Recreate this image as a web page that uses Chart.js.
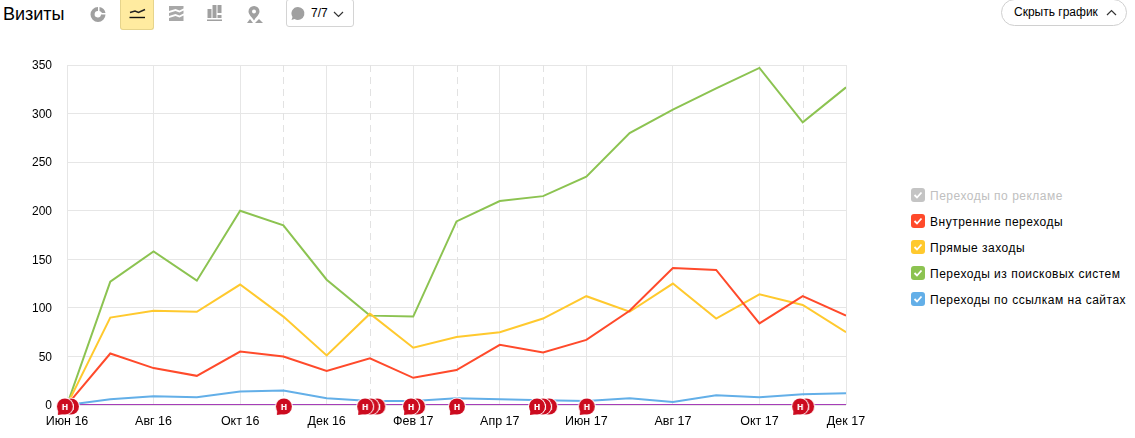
<!DOCTYPE html>
<html lang="ru">
<head>
<meta charset="utf-8">
<title>Визиты</title>
<script src="https://cdn.jsdelivr.net/npm/chart.js@4/dist/chart.umd.min.js"></script>
<style>
  html, body { margin: 0; padding: 0; background: #fff; }
  body { position: relative; width: 1135px; height: 438px; overflow: hidden; font-family: "Liberation Sans", Arial, sans-serif; font-size: 12px; color: #000; }
  #chart { position: absolute; left: 0; top: 0; }
  .title { position: absolute; left: 3px; top: 3px; font-size: 18px; line-height: 22px; }
  .icon { position: absolute; top: 0; width: 34px; height: 30px; box-sizing: border-box; }
  .icon svg { display: block; width: 34px; height: 30px; }
  .icon.active { background: #ffeba0; border: 1px solid #e6d48c; border-top: 0; border-radius: 0 0 3px 3px; }
  .notes { position: absolute; left: 286px; top: -1px; width: 68px; height: 28px; box-sizing: border-box; border: 1px solid #d4d4d4; border-radius: 3px; }
  .notes svg { position: absolute; left: 0; top: 0; }
  .notes span { position: absolute; left: 24px; top: 6px; line-height: 14px; }
  .hide { position: absolute; left: 1001px; top: -1px; width: 126px; height: 27px; box-sizing: border-box; border: 1px solid #d0d0d0; border-radius: 14px; line-height: 25px; padding-left: 12px; }
  .hide svg { position: absolute; left: 104px; top: 8px; }
  #legend { position: absolute; left: 911px; top: 188px; }
  .item { position: relative; height: 26px; line-height: 16px; padding-left: 19px; white-space: nowrap; letter-spacing: .5px; }
  .item i { position: absolute; left: 0; top: 0; width: 14px; height: 14px; border-radius: 3px; }
  .item svg { position: absolute; left: 0; top: 0; }
  .item.off { color: #c0c0c0; }
</style>
</head>
<body>
<div class="title">Визиты</div>
<div class="icon" style="left:81px"><svg viewBox="0 0 34 30"><path d="M17 7a7.500 7.500 0 1 0 7.500 7.500H20a3.200 3.200 0 1 1-3-3.500z" fill="#a0a0a0"/><path d="M18.500 7a7.500 7.500 0 0 1 6 6H21a3.500 3.500 0 0 0-2.500-2z" fill="#a0a0a0"/></svg></div>
<div class="icon active" style="left:120px"><svg viewBox="0 0 34 30" style="margin-left:-1px"><path d="M10 12.500l5-1.500 3.500 1.500 6.500-3" fill="none" stroke="#222" stroke-width="1.500"/><path d="M9.500 17.500h15.500" stroke="#111" stroke-width="1.400"/></svg></div>
<div class="icon" style="left:159px"><svg viewBox="0 0 34 30"><path d="M10 6h14.500v2.500l-4 2-4-1.500-6.500 2zM10 13l6.500-2 4 1.500 4-2v3l-4 2-4-1.500-6.500 2zM10 18l6.500-2 4 1.500 4-2V21H10z" fill="#a8a8a8"/></svg></div>
<div class="icon" style="left:198px"><svg viewBox="0 0 34 30"><path d="M9.500 9h4v9h-4zM14.500 5h4v13h-4zM19.500 5h4v8h-4zM19.500 15h4v3h-4zM9 19.500h15v1.500H9z" fill="#a0a0a0"/></svg></div>
<div class="icon" style="left:237px"><svg viewBox="0 0 34 30"><path d="M17 6a5.500 5.500 0 0 0-5.500 5.500c0 3 3 5 5.500 9 2.500-4 5.500-6 5.500-9A5.500 5.500 0 0 0 17 6zm0 3.500a2 2 0 1 1 0 4 2 2 0 0 1 0-4z" fill="#a0a0a0"/><path d="M10 23l3-4 3 4zM18 23l4-4 4 4z" fill="#a0a0a0"/></svg></div>
<div class="notes">
  <svg width="24" height="28"><path d="M11 7a6.500 6.500 0 1 1-3.500 12l-3 1 1-3A6.500 6.500 0 0 1 11 7z" fill="#a0a0a0"/></svg>
  <span>7/7</span>
  <svg width="66" height="26"><path d="M47 12l4.500 4.500 4.500-4.500" fill="none" stroke="#333" stroke-width="1.200"/></svg>
</div>
<div class="hide">Скрыть график<svg width="12" height="9"><path d="M1 7l4.500-4.500L10 7" fill="none" stroke="#333" stroke-width="1.200"/></svg></div>
<div id="legend"></div>
<canvas id="chart" width="1135" height="438"></canvas>
<script>
'use strict';

const months = ['Июн 16', 'Июл 16', 'Авг 16', 'Сен 16', 'Окт 16', 'Ноя 16', 'Дек 16', 'Янв 17', 'Фев 17', 'Мар 17', 'Апр 17', 'Май 17', 'Июн 17', 'Июл 17', 'Авг 17', 'Сен 17', 'Окт 17', 'Ноя 17', 'Дек 17'];

const adVisits = [0, 0, 0, 0, 0, 0, 0, 0, 0, 0, 0, 0, 0, 0, 0, 0, 0, 0, 0];
const internalVisits = [0, 53, 38, 30, 55, 50, 35, 48, 28, 36, 62, 54, 67, 97, 141, 139, 84, 112, 92];
const directVisits = [0, 90, 97, 96, 124, 91, 51, 94, 59, 70, 75, 89, 112, 96, 125, 89, 114, 103, 75];
const searchVisits = [0, 127, 158, 128, 200, 185, 129, 92, 91, 189, 210, 215, 235, 280, 304, 326, 347, 291, 327];
const linkVisits = [0, 6, 9, 8, 14, 15, 7, 4, 4, 7, 6, 5, 4, 7, 3, 10, 8, 11, 12];

const seriesNames = ['Переходы по рекламе', 'Внутренние переходы', 'Прямые заходы', 'Переходы из поисковых систем', 'Переходы по ссылкам на сайтах'];
const lineColors = ['#a63db8', '#ff4a2b', '#ffc92e', '#8cc351', '#63afe8'];
const legendColors = ['#c4c4c4', '#ff4a2b', '#ffc92e', '#8cc351', '#63afe8'];

// note dates as month index, right to left so the earliest one ends up on top
const noteDates = [17.08, 16.94, 12.01, 11.14, 11, 10.86, 9.01, 8.09, 7.95, 7.17, 7.02, 6.89, 5.01, 0.09, -0.05];
const dashedMonths = [5, 7, 9, 11, 17];

const toPoints = (values) => values.map((y, x) => ({ x, y }));

function makeNoteIcon() {
  const icon = document.createElement('canvas');
  icon.width = 28;
  icon.height = 28;
  const ctx = icon.getContext('2d');
  const cx = 14;
  const cy = 15.5;
  ctx.fillStyle = '#fff';
  ctx.beginPath();
  ctx.arc(cx, cy, 9, 0, Math.PI * 2);
  ctx.fill();
  ctx.fillStyle = '#cc0b1f';
  ctx.beginPath();
  ctx.arc(cx, cy, 8, 0, Math.PI * 2);
  ctx.fill();
  ctx.beginPath();
  ctx.moveTo(cx - 6.5, cy + 2);
  ctx.lineTo(cx - 7, cy + 8.5);
  ctx.lineTo(cx, cy + 7.5);
  ctx.fill();
  ctx.fillStyle = '#fff';
  ctx.font = 'bold 11px "Liberation Sans", Arial, sans-serif';
  ctx.textAlign = 'center';
  ctx.textBaseline = 'middle';
  ctx.fillText('н', cx, cy);
  return icon;
}

function renderLegend() {
  const box = document.getElementById('legend');
  box.innerHTML = seriesNames.map((name, i) => `
    <div class="item${i === 0 ? ' off' : ''}">
      <i style="background:${legendColors[i]}"></i>
      <svg width="14" height="14"><path d="M3.500 7l2.500 2.500 4.500-5" fill="none" stroke="#fff" stroke-width="1.800"/></svg>
      ${name}
    </div>`).join('');
}

const dashedLines = {
  id: 'dashedLines',
  beforeDatasetsDraw(chart) {
    const { ctx, chartArea, scales } = chart;
    ctx.save();
    ctx.strokeStyle = '#e2e2e2';
    ctx.lineWidth = 1;
    ctx.setLineDash([7, 5]);
    dashedMonths.forEach((month) => {
      const x = Math.round(scales.x.getPixelForValue(month)) + 0.5;
      ctx.beginPath();
      ctx.moveTo(x, chartArea.top);
      ctx.lineTo(x, chartArea.bottom);
      ctx.stroke();
    });
    ctx.restore();
  }
};

const lineDataset = (values, i) => ({
  label: seriesNames[i],
  data: toPoints(values),
  borderColor: lineColors[i],
  backgroundColor: lineColors[i],
  borderWidth: 2,
  pointRadius: 0,
  tension: 0,
  fill: false
});

renderLegend();

new Chart(document.getElementById('chart'), {
  type: 'line',
  data: {
    datasets: [
      {
        label: 'Примечания',
        data: noteDates.map((x) => ({ x, y: 0 })),
        showLine: false,
        pointStyle: makeNoteIcon(),
        pointRadius: 8,
        clip: false
      },
      lineDataset(linkVisits, 4),
      lineDataset(internalVisits, 1),
      lineDataset(directVisits, 2),
      lineDataset(searchVisits, 3),
      lineDataset(adVisits, 0)
    ]
  },
  options: {
    responsive: false,
    animation: false,
    events: [],
    layout: { padding: { left: 20, right: 289, top: 65, bottom: 0 } },
    plugins: { legend: { display: false }, tooltip: { enabled: false } },
    font: { family: '"Liberation Sans", Arial, sans-serif', size: 12 },
    scales: {
      x: {
        type: 'linear',
        min: 0,
        max: 18,
        afterFit(scale) { scale.height = 33; },
        grid: { color: '#e6e6e6', drawTicks: false },
        border: { display: false },
        ticks: {
          stepSize: 2,
          padding: 9,
          maxRotation: 0,
          autoSkip: false,
          color: '#000',
          font: { family: '"Liberation Sans", Arial, sans-serif', size: 12.5 },
          callback: (value) => months[value]
        }
      },
      y: {
        min: 0,
        max: 350,
        afterFit(scale) { scale.width = 47; },
        grid: { color: '#e6e6e6', drawTicks: false },
        border: { display: false },
        ticks: {
          stepSize: 50,
          padding: 15,
          labelOffset: 1,
          color: '#000',
          font: { family: '"Liberation Sans", Arial, sans-serif', size: 12 }
        }
      }
    }
  },
  plugins: [dashedLines]
});
</script>
</body>
</html>
